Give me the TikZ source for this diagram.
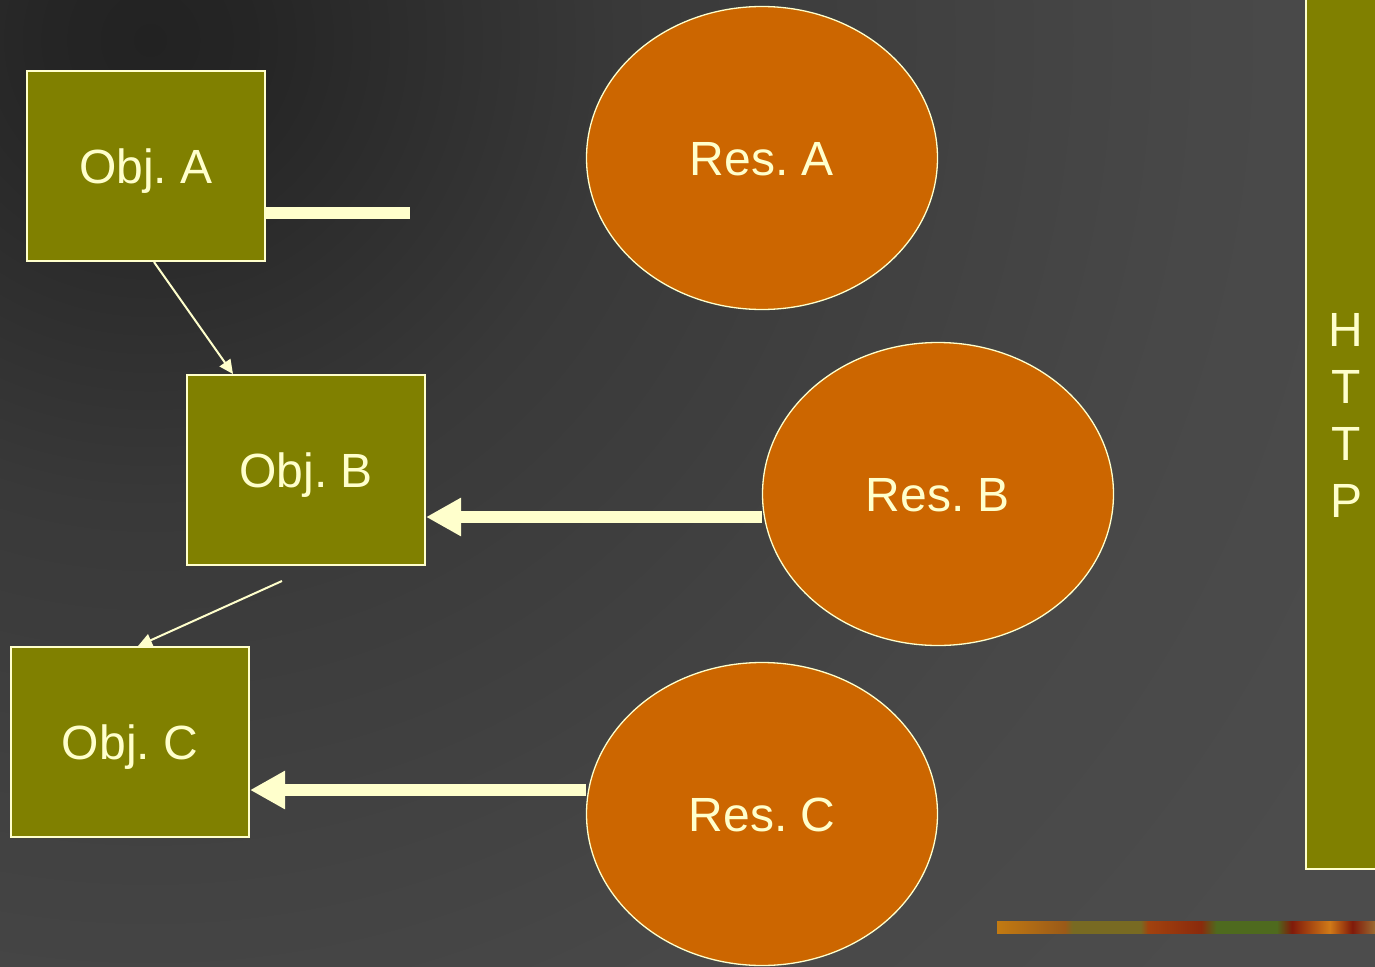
\documentclass[tikz,border=0pt]{standalone}
\usepackage{fontspec}
\setmainfont{Liberation Sans}
\usetikzlibrary{arrows.meta,shapes.geometric}

\definecolor{olivebox}{HTML}{808000}
\definecolor{rust}{HTML}{CC6600}
\definecolor{cream}{HTML}{FFFFCC}
\definecolor{bgdark}{HTML}{222222}
\definecolor{bgdark2}{HTML}{252525}
\definecolor{bgmid}{HTML}{393939}
\definecolor{bgmid2}{HTML}{484848}
\definecolor{bglight}{HTML}{4C4C4C}
\definecolor{tA}{HTML}{C27A12}
\definecolor{tB}{HTML}{9A5A18}
\definecolor{tC}{HTML}{786A22}
\definecolor{tD}{HTML}{A2420E}
\definecolor{tE}{HTML}{8A2A0C}
\definecolor{tF}{HTML}{4E6A1E}
\definecolor{tG}{HTML}{801A0A}
\definecolor{tH}{HTML}{D07A18}
\definecolor{tI}{HTML}{9A6A30}

% soft glow from the upper left corner (25bp = circle radius)
\pgfdeclareradialshading{bgglow}{\pgfpoint{0bp}{0bp}}{%
  color(0bp)=(bgdark); color(1.25bp)=(bgdark2); color(5.9bp)=(bgmid);
  color(13.25bp)=(bgmid2); color(17.5bp)=(bglight); color(50bp)=(bglight)}

% decorative band along the lower edge (25bp..75bp span the path)
\pgfdeclarehorizontalshading{bandtexture}{100bp}{%
  color(0bp)=(tA); color(25bp)=(tA); color(34bp)=(tB); color(35bp)=(tC);
  color(44bp)=(tC); color(45bp)=(tD); color(52bp)=(tE); color(54bp)=(tF);
  color(62bp)=(tF); color(64bp)=(tG); color(69bp)=(tH); color(72bp)=(tG);
  color(75bp)=(tI); color(100bp)=(tI)}

\begin{document}
\frenchspacing
\begin{tikzpicture}[x=1pt,y=-1pt,
  labelfont/.style={font=\fontsize{48}{57}\selectfont,
    text height=34pt, text depth=0pt},
  objbox/.style={rectangle, draw=cream, line width=2pt, fill=olivebox,
    minimum width=238pt, minimum height=190pt, inner sep=0pt,
    text=cream, labelfont},
  resource/.style={ellipse, draw=cream, line width=1.3pt, fill=rust,
    minimum width=351pt, minimum height=303pt, inner sep=0pt,
    text=cream, labelfont},
  thinlink/.style={draw=cream, line width=2pt,
    -{Triangle[length=14pt,width=13pt]}},
  thicklink/.style={draw=cream, line width=12pt,
    -{Triangle[length=35pt,width=36pt]}},
  plainbar/.style={draw=cream, line width=12pt},
]
\useasboundingbox (0,0) rectangle (1375,966);

% background
\begin{scope}
  \clip (0,0) rectangle (1375,966);
  \shade[shading=bgglow] (150,40) circle (2000);
\end{scope}

% protocol bar on the right
\draw[draw=cream, line width=2pt, fill=olivebox] (1390,-10) -- (1306,-10) -- (1306,869) -- (1390,869);
\node[text=cream, font=\fontsize{48}{57}\selectfont, align=center] (http) at (1346,415)
  {H\\T\\T\\P};

% band
\shade[shading=bandtexture] (997,921) rectangle (1375,933);

% objects
\node[objbox] (objA) at (146,166) {Obj. A};
\node[objbox] (objB) at (306,470) {Obj. B};
\node[objbox] (objC) at (130,742) {Obj. C};

% resources
\node[resource] (resA) at (762,158) {Res. A};
\node[resource] (resB) at (938,494) {Res. B};
\node[resource] (resC) at (762,814) {Res. C};

% connectors
\coordinate (stubA) at (410,213);
\coordinate (fromB) at (282,581);
\draw[plainbar] ([yshift=-47pt]objA.east) -- (stubA);
\draw[thinlink] ([xshift=8pt]objA.south) -- ([xshift=-73pt]objB.north);
\draw[thinlink] (fromB) -- ([xshift=8pt]objC.north);
\draw[thicklink] ([yshift=-23pt]resB.west) -- ([yshift=-47pt]objB.east);
\draw[thicklink] ([yshift=24pt]resC.west) -- ([yshift=-48pt]objC.east);
\end{tikzpicture}
\end{document}
